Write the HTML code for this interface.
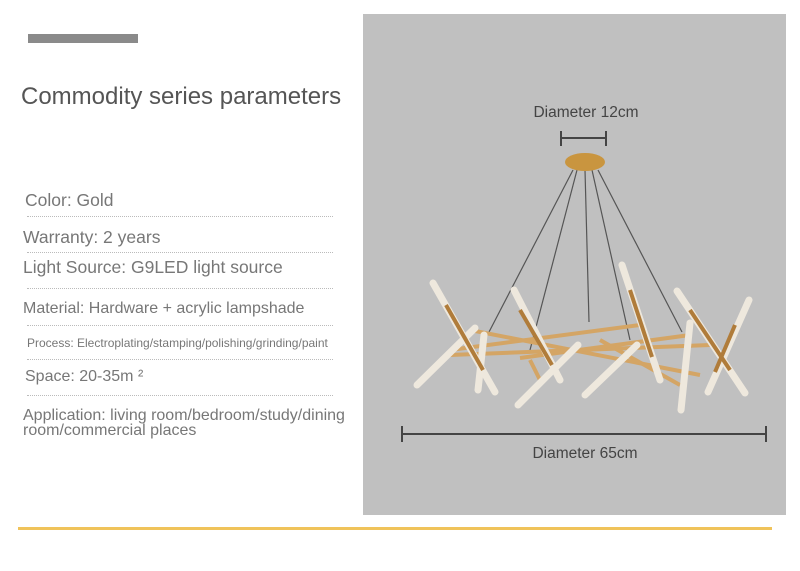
<!DOCTYPE html>
<html><head><meta charset="utf-8"><style>
body{margin:0;width:800px;height:571px;background:#fff;position:relative;overflow:hidden;font-family:"Liberation Sans",sans-serif}
.t{position:absolute;color:#777;white-space:nowrap}
.d{position:absolute;left:27px;width:306px;border-top:1px dotted #bbb}
</style></head><body>
<div style="position:absolute;left:28px;top:34px;width:110px;height:9px;background:#8a8a8a"></div>
<div class="t" style="left:21px;top:83px;font-size:24px;color:#555">Commodity series parameters</div>
<div class="t" style="left:25px;top:190px;font-size:17.5px">Color: Gold</div>
<div class="d" style="top:216px"></div>
<div class="t" style="left:23px;top:227px;font-size:17.5px">Warranty: 2 years</div>
<div class="d" style="top:252px"></div>
<div class="t" style="left:23px;top:257px;font-size:17.5px">Light Source: G9LED light source</div>
<div class="d" style="top:288px"></div>
<div class="t" style="left:23px;top:300px;font-size:16px">Material: Hardware + acrylic lampshade</div>
<div class="d" style="top:325px"></div>
<div class="t" style="left:27px;top:336px;font-size:12px">Process: Electroplating/stamping/polishing/grinding/paint</div>
<div class="d" style="top:359px"></div>
<div class="t" style="left:25px;top:368px;font-size:16px">Space: 20-35m ²</div>
<div class="d" style="top:395px"></div>
<div class="t" style="left:23px;top:408px;font-size:16px;line-height:15px">Application: living room/bedroom/study/dining<br>room/commercial places</div>
<div style="position:absolute;left:363px;top:14px;width:423px;height:501px;background:#c0c0c0"></div>
<div style="position:absolute;left:18px;top:527px;width:754px;height:3px;background:#f0c35a"></div>
<svg style="position:absolute;left:0;top:0" width="800" height="571">
<text x="586" y="117" font-size="15.5" fill="#444" text-anchor="middle" font-family="Liberation Sans">Diameter 12cm</text>
<text x="585" y="458" font-size="15.5" fill="#444" text-anchor="middle" font-family="Liberation Sans">Diameter 65cm</text>
<g stroke="#444" stroke-width="2"><line x1="561" y1="138" x2="606" y2="138"/><line x1="561" y1="131" x2="561" y2="146"/><line x1="606" y1="131" x2="606" y2="146"/>
<line x1="402" y1="434" x2="766" y2="434"/><line x1="402" y1="426" x2="402" y2="442"/><line x1="766" y1="426" x2="766" y2="442"/></g>
<g stroke="#555" stroke-width="1.2"><line x1="573" y1="170" x2="489" y2="332"/><line x1="577" y1="170" x2="530" y2="350"/><line x1="585" y1="170" x2="589" y2="322"/><line x1="592" y1="170" x2="630" y2="340"/><line x1="598" y1="170" x2="682" y2="332"/></g>
<ellipse cx="585" cy="162" rx="20" ry="9" fill="#c9953f"/>
<g stroke="#d4a565" stroke-width="4" fill="none"><line x1="450" y1="350" x2="640" y2="325"/><line x1="470" y1="330" x2="700" y2="375"/><line x1="450" y1="355" x2="710" y2="345"/><line x1="520" y1="358" x2="690" y2="335"/><line x1="600" y1="340" x2="680" y2="385"/><line x1="540" y1="380" x2="530" y2="360"/></g>
<g stroke="#eee8dd" stroke-width="7" stroke-linecap="round">
<line x1="433" y1="283" x2="495" y2="392"/><line x1="514" y1="290" x2="560" y2="380"/><line x1="622" y1="265" x2="660" y2="380"/><line x1="677" y1="291" x2="745" y2="393"/><line x1="749" y1="300" x2="708" y2="392"/><line x1="475" y1="328" x2="417" y2="385"/><line x1="484" y1="335" x2="478" y2="390"/><line x1="578" y1="345" x2="518" y2="405"/><line x1="637" y1="345" x2="585" y2="395"/><line x1="690" y1="323" x2="681" y2="410"/></g>
<g stroke="#b07c3a" stroke-width="4"><line x1="446" y1="305" x2="483" y2="370"/><line x1="520" y1="310" x2="552" y2="365"/><line x1="630" y1="290" x2="652" y2="357"/><line x1="690" y1="310" x2="730" y2="370"/><line x1="735" y1="325" x2="715" y2="372"/></g>
</svg>
</body></html>
